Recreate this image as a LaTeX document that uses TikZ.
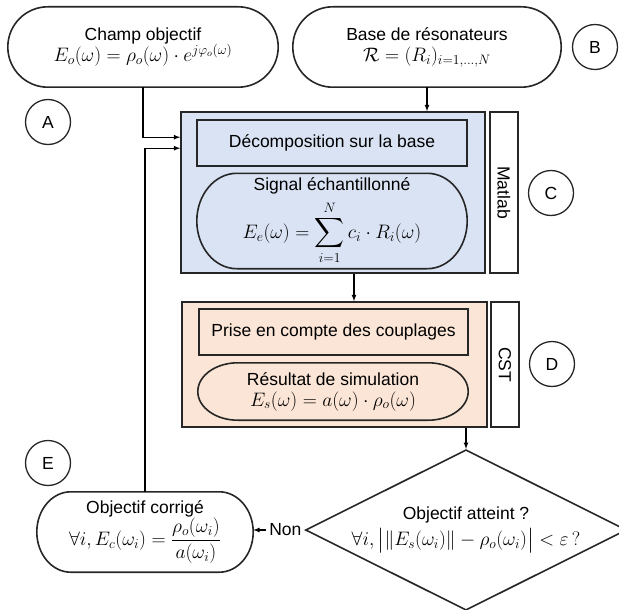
\RequirePackage{fix-cm}
\documentclass[tikz,border=0pt]{standalone}
\usepackage{amsmath}
\usepackage{fontspec}
\setmainfont{Liberation Sans}
\usetikzlibrary{shapes.geometric,positioning,calc}

\definecolor{matlabblue}{HTML}{DAE3F3}
\definecolor{cstorange}{HTML}{FBE5D6}

% formulas a little larger than the text
\newcommand{\mth}[1]{{\fontsize{19.5}{23}\selectfont$#1$}}

% outline of a terminator shape round node #1, #2 = width of the rounded ends
\newcommand{\termline}[2]{%
  \draw[termline] let \p1=(#1.north west), \p2=(#1.south east), \n1={0.5*(\y1-\y2)} in
    (\x1+#2,\y1) -- (\x2-#2,\y1) arc[start angle=90, end angle=-90, x radius=#2, y radius=\n1]
    -- (\x1+#2,\y2) arc[start angle=270, end angle=90, x radius=#2, y radius=\n1] -- cycle;}

\begin{document}
\begin{tikzpicture}[x=1pt, y=-1pt,
	every node/.style={font=\fontsize{17.5}{21}\selectfont},
	frame/.style={draw=black!85, line width=1.6pt},
	termline/.style={draw=black!85, line width=1.6pt},
	term/.style={align=center, inner sep=0pt},
	tag/.style={circle, draw=black!85, line width=1.3pt, minimum size=45pt, inner sep=0pt},
	toolbox/.style={frame, fill=white, rotate=-90, minimum width=#1, minimum height=28pt, inner sep=0pt},
	link/.style={-latex, line width=1.2pt}]
	\useasboundingbox (0,0) rectangle (619,610);

	% inputs
	\node[term, minimum width=270pt, minimum height=80pt] (champ) at (143,47)
		{Champ objectif\\ \mth{E_o(\omega)=\rho_o(\omega)\cdot e^{j\varphi_o(\omega)}}};
	\termline{champ}{40pt}
	\node[term, minimum width=268pt, minimum height=80pt] (base) at (427,47)
		{Base de résonateurs\\ \mth{\mathcal{R}=(R_i)_{i=1,\dots,N}}};
	\termline{base}{40pt}

	% Matlab
	\node[frame, fill=matlabblue, minimum width=304pt, minimum height=161pt] (matlab) at (333,192.5) {};
	\node[frame, minimum width=270pt, minimum height=46pt] (decomp) at (332,143) {Décomposition sur la base};
	\node[term, minimum width=270pt, minimum height=95pt] (signal) at (332,221)
		{Signal échantillonné\\[6pt] \mth{\displaystyle E_e(\omega)=\sum_{i=1}^{N} c_i\cdot R_i(\omega)}};
	\termline{signal}{40pt}
	\node[toolbox=161pt] (matlabtag) at (504,192.5) {Matlab};

	% CST
	\node[frame, fill=cstorange, minimum width=305pt, minimum height=125pt] (cst) at (334.5,364.5) {};
	\node[frame, minimum width=269pt, minimum height=46pt] (coupl) at (333.5,332) {Prise en compte des couplages};
	\node[term, minimum width=270pt, minimum height=57pt] (simu) at (333,391.5)
		{Résultat de simulation\\ \mth{E_s(\omega)=a(\omega)\cdot\rho_o(\omega)}};
	\termline{simu}{40pt}
	\node[toolbox=125pt] (csttag) at (505,364.5) {CST};

	% test and correction
	\node[diamond, frame, aspect=2, minimum width=303pt, minimum height=154pt, inner sep=0pt, align=center] (goal) at (466,530)
		{Objectif atteint ?\\[5pt] \mth{\forall i,\bigl|\|E_s(\omega_i)\|-\rho_o(\omega_i)\bigr|<\varepsilon\,?}};
	\node[left=0pt of goal.west, inner sep=3pt] (non) {Non};
	\node[term, minimum width=216pt, minimum height=80pt] (corr) at (145,532)
		{Objectif corrigé\\ \mth{\forall i, E_c(\omega_i)=\dfrac{\rho_o(\omega_i)}{a(\omega_i)}}};
	\termline{corr}{34pt}

	% letters
	\node[tag] (tagA) at (48,122) {A};
	\node[tag] (tagB) at (595,47) {B};
	\node[tag] (tagC) at (551,193) {C};
	\node[tag] (tagD) at (552,364) {D};
	\node[tag] (tagE) at (48,463) {E};

	% links
	\draw[link] (champ.south) |- ([yshift=-26pt]matlab.north west);
	\draw[link] (corr.north) |- ([yshift=-37pt]matlab.north west);
	\draw[link] (base.south) -- (base.south |- matlab.north);
	\draw[link] ([xshift=21pt]matlab.south) -- ([xshift=21pt]matlab.south |- cst.north);
	\draw[link] (goal.north |- cst.south) -- (goal.north);
	\draw[link] (non.west) -- (non.west -| corr.east);
\end{tikzpicture}
\end{document}
